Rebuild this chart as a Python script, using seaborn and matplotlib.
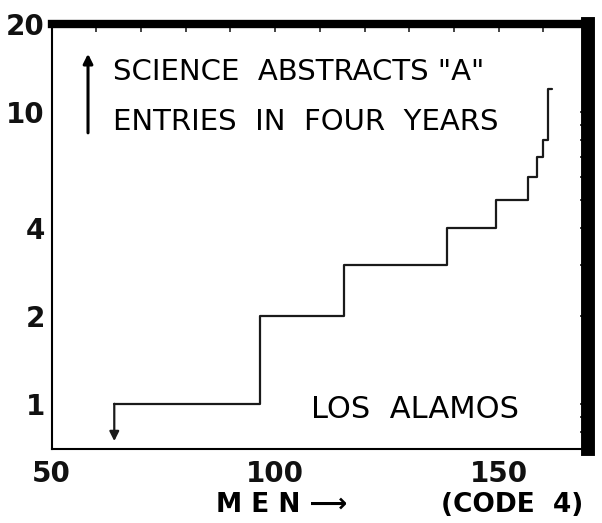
import matplotlib
matplotlib.use("Agg")
import matplotlib.pyplot as plt
import seaborn as sns
import pandas as pd
from matplotlib.ticker import FixedLocator, NullFormatter, LogLocator, MultipleLocator

# data: step points (men, entries)
men = [64, 96.5, 115.5, 138.5, 149.5, 156.5, 158.5, 160, 161, 162]
entries = [1, 2, 3, 4, 5, 6, 7, 8, 12, 12]
x_ticks = [50, 100, 150]
x_tick_labels = ["50", "100", "150"]
y_ticks = [1, 2, 4, 10, 20]
y_tick_labels = ["1", "2", "4", "10", "20"]

sns.set_theme(style="white")
plt.rcParams['font.family'] = ['DejaVu Sans']

df = pd.DataFrame({"men": men, "entries": entries})

fig = plt.figure(figsize=(6.02, 5.23), dpi=100)
ax = fig.add_axes([0.0859, 0.1415, 0.8908, 0.8125])

sns.lineplot(data=df, x="men", y="entries", ax=ax, estimator=None, sort=False,
             drawstyle="steps-post", color="#1a1a1a", linewidth=1.6)

ax.set_yscale("log")
ax.set_xlim(50, 170)
ax.set_ylim(0.7, 20)

ax.xaxis.set_major_locator(FixedLocator(x_ticks))
ax.set_xticklabels(x_tick_labels)
ax.xaxis.set_minor_locator(MultipleLocator(10))
ax.yaxis.set_major_locator(FixedLocator(y_ticks))
ax.set_yticklabels(y_tick_labels)
ax.yaxis.set_minor_locator(LogLocator(base=10, subs=[3, 5, 6, 7, 8, 9]))
ax.yaxis.set_minor_formatter(NullFormatter())

ax.tick_params(axis="both", which="both", direction="in", top=True, right=True,
               length=6, width=1.2, color="#222222")
ax.tick_params(axis="x", which="major", labelsize=20, pad=8)
ax.tick_params(axis="y", which="major", labelsize=20, pad=5)
for lab in ax.get_xticklabels() + ax.get_yticklabels():
    lab.set_fontweight("bold")
    lab.set_color("#111111")

ax.set_xlabel("")
ax.set_ylabel("")

for side, lw in [("left", 1.5), ("bottom", 1.5), ("top", 6), ("right", 10)]:
    ax.spines[side].set_visible(True)
    ax.spines[side].set_color("black")
    ax.spines[side].set_linewidth(lw)

# arrow at start of curve
ax.annotate("", xy=(64, 0.745), xytext=(64, 1.0),
            arrowprops=dict(arrowstyle="-|>", color="#1a1a1a", lw=1.6,
                            mutation_scale=14, shrinkA=0, shrinkB=0))

# vertical arrow beside title
ax.annotate("", xy=(0.0677, 0.93), xytext=(0.0677, 0.744), xycoords="axes fraction",
            textcoords="axes fraction",
            arrowprops=dict(arrowstyle="-|>", color="black", lw=2.2,
                            mutation_scale=14, shrinkA=0, shrinkB=0))

ax.text(0.114, 0.887, 'SCIENCE  ABSTRACTS "A"', transform=ax.transAxes,
        fontsize=21, va="center", ha="left", color="black")
ax.text(0.114, 0.769, 'ENTRIES  IN  FOUR  YEARS', transform=ax.transAxes,
        fontsize=21, va="center", ha="left", color="black")
ax.text(0.677, 0.092, 'LOS  ALAMOS', transform=ax.transAxes,
        fontsize=22, va="center", ha="center", color="black")

fig.text(0.468, 0.034, "M E N \u27f6", fontsize=19, fontweight="bold",
         ha="center", va="center", color="black")
fig.text(0.851, 0.034, "(CODE  4)", fontsize=19, fontweight="bold",
         ha="center", va="center", color="black")

fig.savefig("out.png", dpi=100)
